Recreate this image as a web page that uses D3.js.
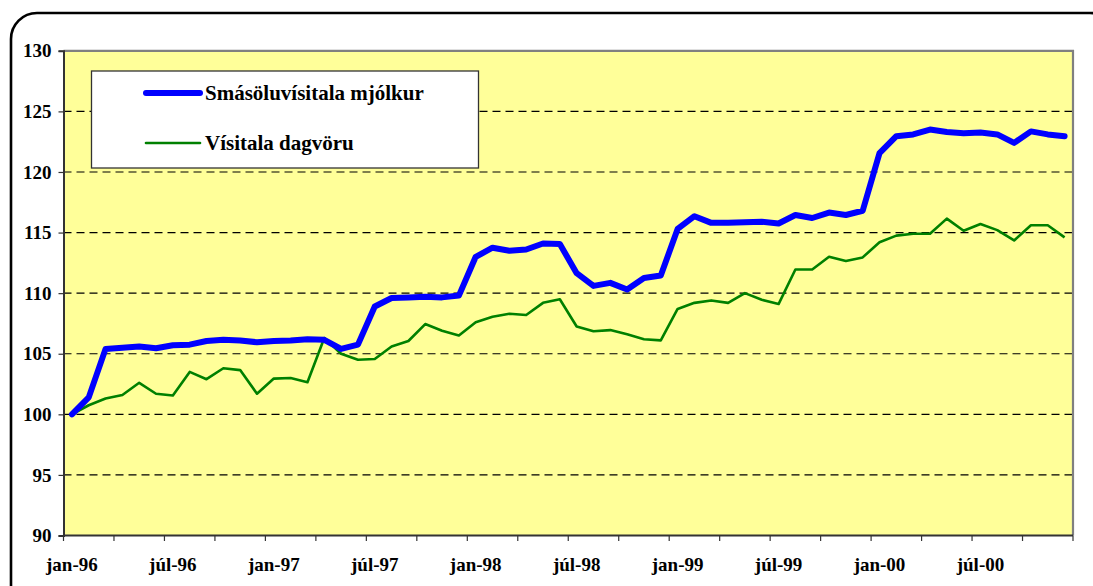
<!DOCTYPE html>
<html>
<head>
<meta charset="utf-8">
<script src="https://cdn.jsdelivr.net/npm/d3@7"></script>
<style>
html,body{margin:0;padding:0;background:#fff;}
svg{display:block;}
</style>
</head>
<body>
<svg id="chart" width="1093" height="586"></svg>
<script>
const monthNames = ["jan","feb","mar","apr","maí","jún","júl","ágú","sep","okt","nóv","des"];
const years = ["96","97","98","99","00"];
const categories = years.flatMap(y => monthNames.map(m => m + "-" + y));
const xTickLabels = ["jan-96","júl-96","jan-97","júl-97","jan-98","júl-98","jan-99","júl-99","jan-00","júl-00"];
const yTicks = [90,95,100,105,110,115,120,125,130];

const milkRetail = [
  100.0,101.4,105.4,105.5,105.6,105.45,105.7,105.75,106.05,106.15,106.1,105.95,
  106.05,106.1,106.2,106.15,105.4,105.75,108.9,109.6,109.65,109.7,109.65,109.8,
  113.0,113.75,113.5,113.6,114.1,114.05,111.65,110.6,110.85,110.3,111.25,111.45,
  115.3,116.35,115.8,115.8,115.85,115.9,115.75,116.45,116.2,116.65,116.45,116.8,
  121.55,122.95,123.1,123.5,123.3,123.2,123.25,123.1,122.4,123.35,123.1,122.95
];
const dailyGoods = [
  100.0,100.75,101.3,101.6,102.6,101.7,101.55,103.5,102.9,103.8,103.65,101.7,
  102.95,103.0,102.65,106.3,105.0,104.5,104.57,105.6,106.05,107.45,106.9,106.5,
  107.6,108.05,108.3,108.2,109.2,109.5,107.25,106.85,106.95,106.6,106.2,106.1,
  108.7,109.2,109.4,109.2,110.0,109.45,109.1,111.95,111.95,113.0,112.65,112.95,
  114.2,114.75,114.9,114.9,116.15,115.15,115.7,115.2,114.35,115.6,115.6,114.6
];
const seriesNames = ["Smásöluvísitala mjólkur","Vísitala dagvöru"];

const FONT = "Liberation Serif";
const svg = d3.select("#chart");

// outer rounded frame
svg.append("rect")
  .attr("x",11).attr("y",13).attr("width",1105).attr("height",600)
  .attr("rx",26).attr("ry",26)
  .attr("fill","#fff").attr("stroke","#000").attr("stroke-width",2.6);

const L = 63.5, R = 1073, T = 50.8, B = 535.5;
const x = d3.scaleBand().domain(categories).range([L,R]).padding(0);
const y = d3.scaleLinear().domain([90,130]).range([B,T]);
const cx = d => x(d) + x.bandwidth()/2;

// plot area
svg.append("rect").attr("x",L).attr("y",T).attr("width",R-L).attr("height",B-T)
  .attr("fill","#FFFF99");

// grid lines
svg.append("g").selectAll("line").data(yTicks.filter(v => v>90 && v<130)).join("line")
  .attr("x1",L).attr("x2",R).attr("y1",d=>y(d)).attr("y2",d=>y(d))
  .attr("stroke","#000").attr("stroke-width",1.2).attr("stroke-dasharray","8,5");

// top and right border
svg.append("path")
  .attr("d",`M${L},${T}H${R}V${B}`)
  .attr("fill","none").attr("stroke","#808080").attr("stroke-width",2.2);

// y axis
const yAxis = d3.axisLeft(y).tickValues(yTicks).tickSize(5).tickPadding(7);
const gy = svg.append("g").attr("transform",`translate(${L},0)`).call(yAxis)
  .attr("font-family",FONT).attr("font-size",19).attr("font-weight","bold");
gy.select(".domain").attr("stroke","#333").attr("stroke-width",2);
gy.selectAll(".tick line").attr("stroke","#333").attr("stroke-width",1.2);
gy.selectAll("text").attr("fill","#000").attr("font-family",FONT).attr("font-size",19).attr("font-weight","bold");

// x axis: ticks between categories every 3 months
const tickPos = d3.range(0, categories.length + 1, 3).map(i => L + i * x.step());
const gx = svg.append("g");
gx.append("line").attr("x1",L).attr("x2",R).attr("y1",B).attr("y2",B)
  .attr("stroke","#333").attr("stroke-width",2);
gx.selectAll("line.tk").data(tickPos).join("line").attr("class","tk")
  .attr("x1",d=>d).attr("x2",d=>d).attr("y1",B).attr("y2",B+5.5)
  .attr("stroke","#333").attr("stroke-width",1.2);
gx.selectAll("text").data(xTickLabels).join("text")
  .attr("x",d=>cx(d)).attr("y",571)
  .attr("text-anchor","middle")
  .attr("font-family",FONT).attr("font-size",19).attr("font-weight","bold").attr("fill","#000")
  .text(d=>d);

// lines
const line = d3.line().x((d,i)=>cx(categories[i])).y(d=>y(d));
svg.append("path").datum(dailyGoods).attr("d",line)
  .attr("fill","none").attr("stroke","#008000").attr("stroke-width",2.6).attr("stroke-linejoin","round");
svg.append("path").datum(milkRetail).attr("d",line)
  .attr("fill","none").attr("stroke","#0000FF").attr("stroke-width",6).attr("stroke-linejoin","round").attr("stroke-linecap","round");

// legend
const lg = svg.append("g");
lg.append("rect").attr("x",91.5).attr("y",71).attr("width",387).attr("height",97)
  .attr("fill","#fff").attr("stroke","#333").attr("stroke-width",1.3);
const legendItems = [
  {name: seriesNames[0], color: "#0000FF", w: 6, yy: 93},
  {name: seriesNames[1], color: "#008000", w: 2.6, yy: 143}
];
legendItems.forEach(it => {
  lg.append("line").attr("x1",146).attr("x2",200).attr("y1",it.yy).attr("y2",it.yy)
    .attr("stroke",it.color).attr("stroke-width",it.w).attr("stroke-linecap","round");
  lg.append("text").attr("x",205).attr("y",it.yy+7)
    .attr("font-family",FONT).attr("font-size",21).attr("font-weight","bold").attr("fill","#000")
    .text(it.name);
});
</script>
</body>
</html>
